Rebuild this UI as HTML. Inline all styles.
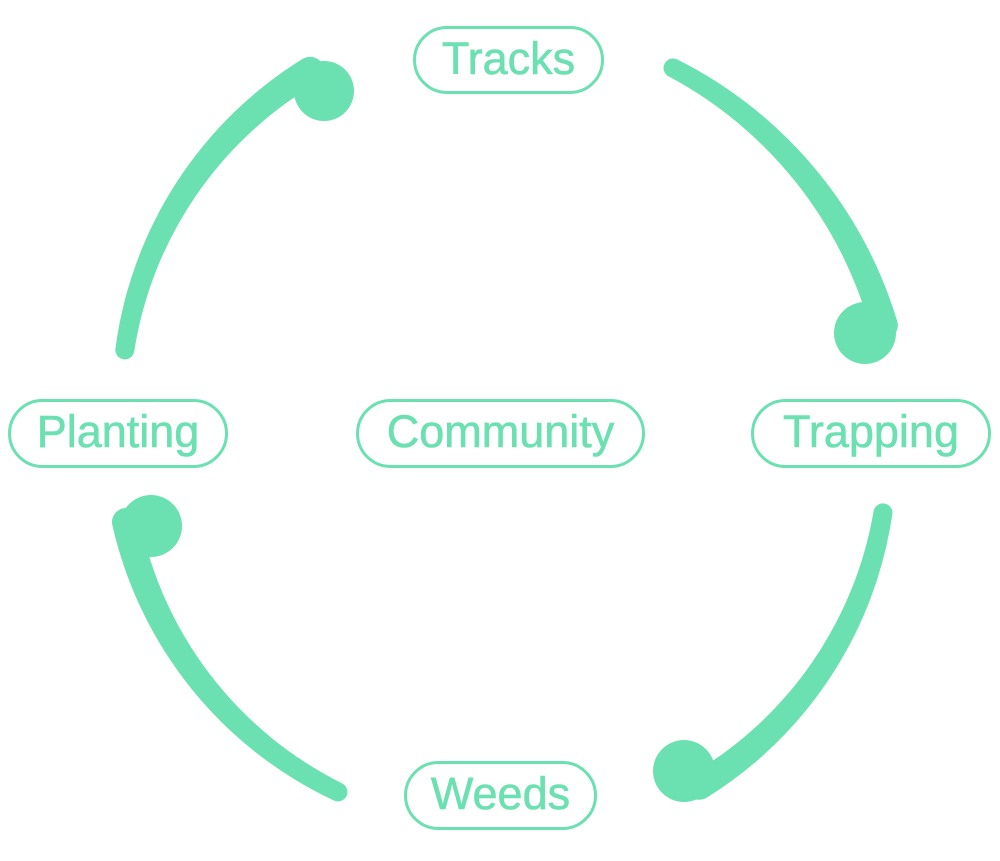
<!DOCTYPE html>
<html>
<head>
<meta charset="utf-8">
<style>
  html, body { margin: 0; padding: 0; background: #ffffff; }
  body { width: 1000px; height: 861px; overflow: hidden; }
  svg { display: block; }
  text { font-family: "Liberation Sans", sans-serif; font-size: 45px; fill: #6be0b0; stroke: #6be0b0; stroke-width: 0.6px; }
</style>
</head>
<body>
<svg width="1000" height="861" viewBox="0 0 1000 861" xmlns="http://www.w3.org/2000/svg">
  <g fill="#6be0b0" stroke="none">
    <!-- Arc 1: Planting -> Tracks (tapered band) -->
    <path d="M115.4,348.8 A401.75,401.75 0 0 1 302.8,58.8 A14,14 0 0 1 317.3,82.8 A378.25,378.25 0 0 0 134.2,351.5 A9.5,9.5 0 0 1 115.4,348.8 Z"/>
    <!-- Arc 2: Tracks -> Trapping -->
    <path d="M677.4,59.5 A431.75,431.75 0 0 1 897.5,322.2 A14,14 0 0 1 870.6,329.8 A408.25,408.25 0 0 0 668.7,76.4 A9.5,9.5 0 0 1 677.4,59.5 Z"/>
    <!-- Arc 3: Trapping -> Weeds -->
    <path d="M892.4,513.5 A401.75,401.75 0 0 1 706.2,798 A14,14 0 0 1 691.8,774 A378.25,378.25 0 0 0 873.7,510.6 A9.5,9.5 0 0 1 892.4,513.5 Z"/>
    <!-- Arc 4: Weeds -> Planting -->
    <path d="M333.8,800.5 A401.75,401.75 0 0 1 112.3,524.9 A14,14 0 0 1 139.7,519.1 A378.25,378.25 0 0 0 342.1,783.4 A9.5,9.5 0 0 1 333.8,800.5 Z"/>

    <circle cx="324" cy="91" r="30"/>
    <circle cx="865" cy="333" r="31"/>
    <circle cx="684" cy="771" r="31"/>
    <circle cx="151" cy="526" r="31"/>
  </g>
  <g fill="#ffffff" stroke="#6be0b0" stroke-width="3">
    <rect x="414.5" y="27.5" width="188" height="65" rx="32.5"/>
    <rect x="9.5" y="400.5" width="217" height="66" rx="33"/>
    <rect x="357.5" y="400.5" width="286" height="66" rx="33"/>
    <rect x="752.5" y="400.5" width="237" height="66" rx="33"/>
    <rect x="405.5" y="762.5" width="190" height="66" rx="33"/>
  </g>
  <g text-anchor="middle">
    <text x="508.5" y="74">Tracks</text>
    <text x="118" y="447">Planting</text>
    <text x="500.5" y="447">Community</text>
    <text x="871" y="447">Trapping</text>
    <text x="500.5" y="809">Weeds</text>
  </g>
</svg>
</body>
</html>
